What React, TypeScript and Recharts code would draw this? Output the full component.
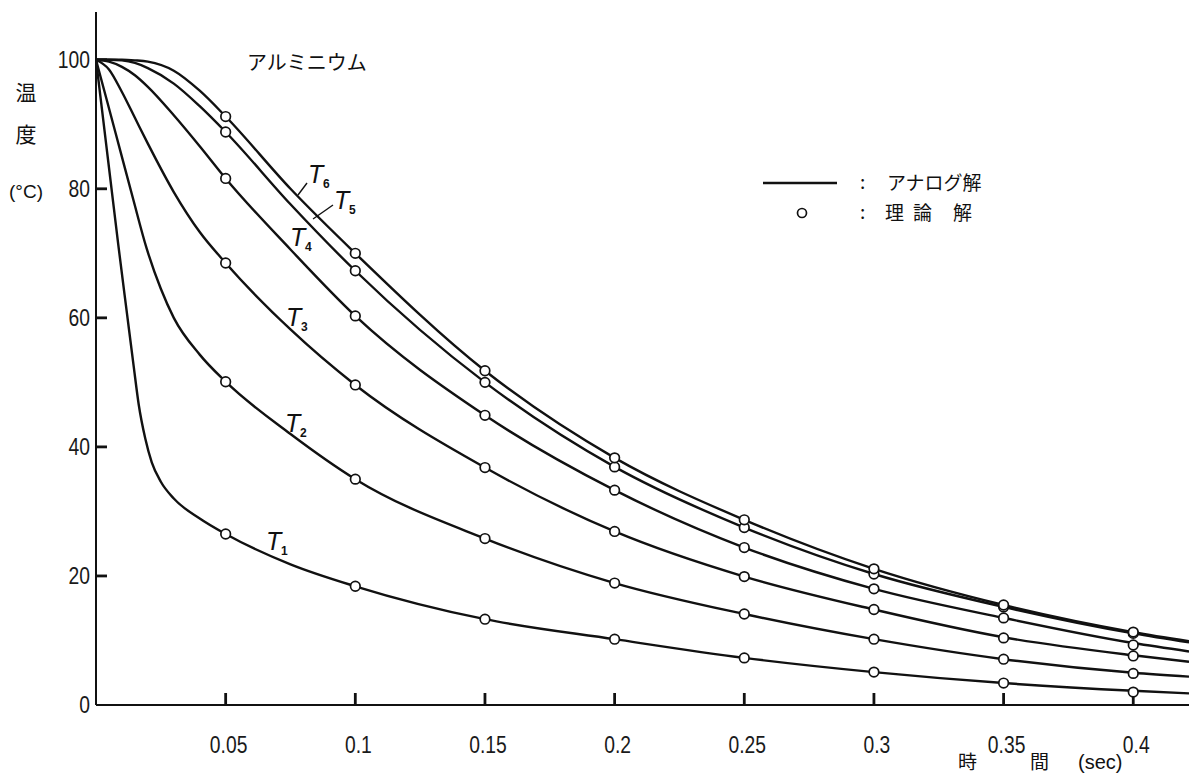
import React from "react";
import { ComposedChart, Line, Scatter, XAxis, YAxis } from "recharts";

// アナログ解 (solid curves)
const t1Time = [0, 0.002, 0.005, 0.0086, 0.012, 0.0145, 0.0165, 0.019, 0.0215, 0.025, 0.03, 0.04, 0.05, 0.075, 0.1, 0.15, 0.2, 0.25, 0.3, 0.35, 0.4, 0.4215];
const t1Temp = [100, 93.3, 83.3, 71.3, 60.5, 52.6, 46.5, 41.3, 37.6, 34.6, 32.0, 28.9, 26.5, 21.8, 18.4, 13.3, 10.2, 7.3, 5.1, 3.4, 2.2, 1.8];

const t2Time = [0, 0.004, 0.0093, 0.0144, 0.0195, 0.025, 0.03, 0.04, 0.05, 0.075, 0.1, 0.15, 0.2, 0.25, 0.3, 0.35, 0.4, 0.4215];
const t2Temp = [100, 94, 86, 78.3, 70.8, 64.5, 60, 54.3, 50.1, 42, 35, 25.8, 18.9, 14.1, 10.2, 7.1, 5.0, 4.4];

const baseTime = [0, 0.005, 0.01, 0.015, 0.02, 0.03, 0.04, 0.05, 0.075, 0.1, 0.15, 0.2, 0.25, 0.3, 0.35, 0.4, 0.4215];
const t3Temp = [100, 98.5, 95, 91, 87, 79.5, 73.3, 68.5, 58.2, 49.6, 36.8, 26.9, 19.9, 14.8, 10.5, 7.7, 6.7];
const t4Temp = [100, 99.7, 98.9, 97.6, 95.8, 91.4, 86.6, 81.6, 70.6, 60.3, 44.9, 33.3, 24.4, 18.0, 13.5, 9.6, 8.3];
const t5Temp = [100, 100, 99.9, 99.5, 98.7, 96.3, 92.8, 88.8, 77.6, 67.3, 50.0, 36.9, 27.5, 20.3, 15.2, 11.1, 9.7];
const t6Temp = [100, 100, 100, 99.9, 99.7, 98.3, 95.2, 91.2, 80.0, 70.0, 51.8, 38.3, 28.7, 21.1, 15.5, 11.3, 9.9];

// 理論解 (circles)
const theoryTime = [0.05, 0.1, 0.15, 0.2, 0.25, 0.3, 0.35, 0.4];
const theoryT1 = [26.5, 18.4, 13.3, 10.2, 7.3, 5.1, 3.4, 2.0];
const theoryT2 = [50.1, 35.0, 25.8, 18.9, 14.1, 10.2, 7.1, 4.9];
const theoryT3 = [68.5, 49.6, 36.8, 26.9, 19.9, 14.8, 10.4, 7.6];
const theoryT4 = [81.6, 60.3, 44.9, 33.3, 24.4, 18.0, 13.5, 9.3];
const theoryT5 = [88.8, 67.3, 50.0, 36.9, 27.5, 20.3, 15.2, 11.1];
const theoryT6 = [91.2, 70.0, 51.8, 38.3, 28.7, 21.1, 15.5, 11.3];

const xTicks = [0.05, 0.1, 0.15, 0.2, 0.25, 0.3, 0.35, 0.4];
const yTicks = [0, 20, 40, 60, 80, 100];

const toPts = (ts: number[], vs: number[]) => ts.map((t, i) => ({ t, v: vs[i] }));

const curves = [
  toPts(t1Time, t1Temp),
  toPts(t2Time, t2Temp),
  toPts(baseTime, t3Temp),
  toPts(baseTime, t4Temp),
  toPts(baseTime, t5Temp),
  toPts(baseTime, t6Temp),
];
const theoryPts = [theoryT1, theoryT2, theoryT3, theoryT4, theoryT5, theoryT6].flatMap((vs) =>
  toPts(theoryTime, vs)
);
// anchor points for the inward tick marks on both axes
const xTickMarks = xTicks.map((t) => ({ t, v: 0 }));
const yTickMarks = yTicks.filter((v) => v > 0).map((v) => ({ t: 0, v }));

const INK = "#111";
const numFont = "'Liberation Sans', Arial, sans-serif";
const jpFont = "'Noto Sans CJK JP', sans-serif";

function YTick(props: any) {
  const x = Number(props.x);
  const y = Number(props.y);
  return (
    <g transform={`translate(${x - 6},${y + 8})`}>
      <text transform="scale(0.84,1)" textAnchor="end" fontSize={23} fontFamily={numFont} fill="#1a1a1a">
        {props.payload.value}
      </text>
    </g>
  );
}

function XTick(props: any) {
  const x = Number(props.x);
  const y = Number(props.y);
  return (
    <g transform={`translate(${x + 3},${y + 48})`}>
      <text transform="scale(0.84,1)" textAnchor="middle" fontSize={23} fontFamily={numFont} fill="#1a1a1a">
        {String(props.payload.value)}
      </text>
    </g>
  );
}

function Dot(props: any) {
  return <circle cx={props.cx} cy={props.cy} r={4.8} fill="#fff" stroke={INK} strokeWidth={1.7} />;
}

function XMark(props: any) {
  return <path d={`M${props.cx},${props.cy}V${props.cy - 12}`} stroke={INK} strokeWidth={2.8} fill="none" />;
}

function YMark(props: any) {
  return <path d={`M${props.cx},${props.cy}H${props.cx + 11}`} stroke={INK} strokeWidth={2.8} fill="none" />;
}

function TLabel({ x, y, n }: { x: number; y: number; n: string }) {
  return (
    <g fill={INK}>
      <text x={x} y={y} fontSize={25} fontStyle="italic" fontFamily={numFont}>
        T
      </text>
      <text x={x + 15} y={y + 5} fontSize={12} fontWeight="bold" fontFamily={numFont}>
        {n}
      </text>
    </g>
  );
}

export default function App() {
  return (
    <div style={{ position: "absolute", left: 0, top: 0, width: 1196, height: 776, background: "#fff" }}>
      <ComposedChart width={1196} height={776} margin={{ top: 12, right: 7, bottom: 0, left: 0 }}>
        <XAxis
          type="number"
          dataKey="t"
          domain={[0, 0.4215]}
          ticks={xTicks}
          interval={0}
          height={71}
          tickSize={0}
          tickMargin={0}
          tickLine={false}
          tick={<XTick />}
          axisLine={{ stroke: INK, strokeWidth: 2 }}
          allowDataOverflow
        />
        <YAxis
          type="number"
          dataKey="v"
          domain={[0, 107.4]}
          ticks={yTicks}
          interval={0}
          width={96}
          tickSize={0}
          tickMargin={0}
          tickLine={false}
          tick={<YTick />}
          axisLine={{ stroke: INK, strokeWidth: 2 }}
          allowDataOverflow
        />
        <Scatter data={xTickMarks} dataKey="v" shape={<XMark />} isAnimationActive={false} />
        <Scatter data={yTickMarks} dataKey="v" shape={<YMark />} isAnimationActive={false} />
        {curves.map((d, i) => (
          <Line
            key={i}
            data={d}
            dataKey="v"
            type="monotone"
            stroke={INK}
            strokeWidth={2.4}
            dot={false}
            activeDot={false}
            isAnimationActive={false}
          />
        ))}
        <Scatter data={theoryPts} dataKey="v" shape={<Dot />} isAnimationActive={false} />
      </ComposedChart>

      <svg width={1196} height={776} style={{ position: "absolute", left: 0, top: 0, pointerEvents: "none" }}>
        <text x={247} y={70} fontSize={20} fontFamily={jpFont} fill={INK}>
          アルミニウム
        </text>

        <g fontFamily={jpFont} fill={INK} textAnchor="middle">
          <text x={26} y={100} fontSize={21}>温</text>
          <text x={26} y={142} fontSize={21}>度</text>
          <text x={26} y={198} fontSize={19} fontFamily={numFont}>(°C)</text>
        </g>

        <g fill={INK} fontFamily={jpFont} fontSize={19}>
          <line x1={763} y1={183} x2={837} y2={183} stroke={INK} strokeWidth={2.4} />
          <text x={860} y={189}>:</text>
          <text x={887} y={190}>アナログ解</text>
          <circle cx={802} cy={213} r={4.5} fill="#fff" stroke={INK} strokeWidth={1.7} />
          <text x={860} y={219}>:</text>
          <text x={885} y={220}>理</text>
          <text x={913} y={220}>論</text>
          <text x={953} y={220}>解</text>
        </g>

        <line x1={298} y1={195} x2={307} y2={183} stroke={INK} strokeWidth={1.4} />
        <line x1={313} y1={219} x2={333} y2={205} stroke={INK} strokeWidth={1.4} />
        <TLabel x={308} y={183} n="6" />
        <TLabel x={334} y={209} n="5" />
        <TLabel x={290} y={246} n="4" />
        <TLabel x={286} y={326} n="3" />
        <TLabel x={285} y={432} n="2" />
        <TLabel x={266} y={550} n="1" />

        <g fill={INK} fontFamily={jpFont} fontSize={19}>
          <text x={958} y={769}>時</text>
          <text x={1030} y={769}>間</text>
          <text x={1078} y={769} fontFamily={numFont} fontSize={20}>(sec)</text>
        </g>
      </svg>
    </div>
  );
}
